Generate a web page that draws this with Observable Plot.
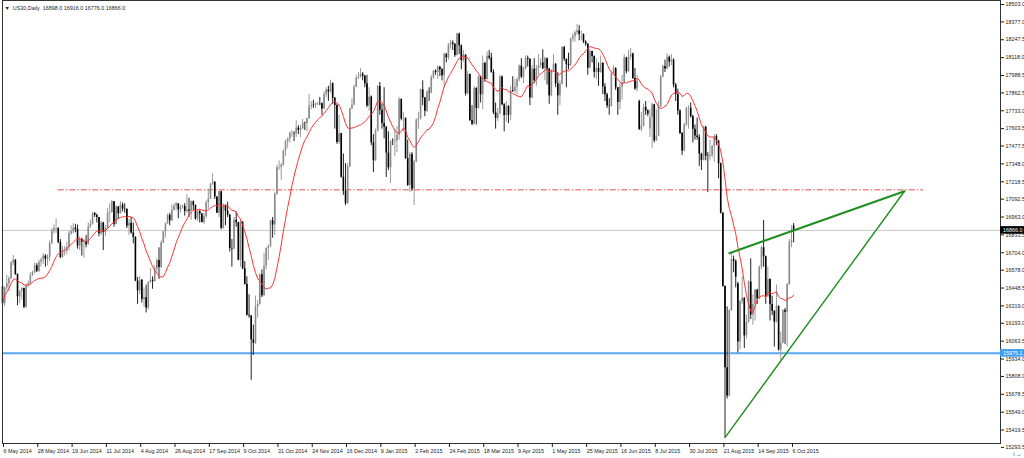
<!DOCTYPE html>
<html><head><meta charset="utf-8">
<script src="https://cdn.jsdelivr.net/npm/d3@7"></script>
<script src="https://cdn.jsdelivr.net/npm/@observablehq/plot@0.6"></script>
<style>html,body{margin:0;padding:0;background:#fff;overflow:hidden}svg{display:block}</style>
</head><body><div id="chart"></div>
<script>
// ---- data (daily bars, US30) ----
const open = [16460,16335,16450,16480,16515,16630,16650,16548,16385,16425,16445,16310,16468,16478,16540,16560,16610,16570,16635,16652,
16680,16658,16672,16770,16860,16878,16880,16778,16670,16710,16716,16743,16841,16856,16882,16872,16753,16802,16781,16786,
16762,16891,16911,16990,16975,16959,16841,16920,16850,16879,16990,16995,17073,16911,17035,16987,17049,17022,17019,16896,
16918,16848,16816,16498,16428,16505,16365,16379,16304,16489,16505,16496,16587,16648,16598,16774,16855,16914,16975,16936,
17012,17041,17058,17015,17033,17040,17003,17014,17004,17073,17047,16949,17003,16985,16923,16967,17067,17092,17201,17215,
17108,16991,17146,16881,17048,17006,16978,16735,16731,16939,16922,16650,16924,16589,16474,16251,16246,16072,16048,16310,
16330,16545,16392,16607,16735,16748,16936,16905,17126,17321,17322,17339,17440,17510,17529,17569,17570,17567,17607,17590,
17603,17643,17641,17675,17765,17773,17770,17783,17785,17783,17745,17850,17883,17870,17929,17823,17771,17503,17567,17251,
17150,17060,17327,17748,17775,17904,17969,17975,17998,17983,17928,17768,17833,17501,17371,17585,17908,17737,17640,17613,
17427,17320,17511,17510,17516,17555,17814,17673,17678,17387,17192,17417,17165,17362,17667,17674,17885,17825,17729,17868,
17863,17973,18019,18010,18048,18030,17986,18140,18117,18210,18225,18215,18133,18289,18204,18097,18136,17856,17996,17662,
17635,17895,17749,17977,17850,18076,17959,18128,18116,18011,17718,17678,17712,17977,17776,17698,17763,17700,17880,17875,
17903,17958,18057,17977,18036,18113,18106,17826,18034,17950,18038,18058,18080,18038,18110,18036,17841,18024,18070,17928,
17841,17925,18191,18105,18068,18060,18252,18272,18299,18312,18285,18285,18232,18215,18042,18163,18126,18011,18040,18011,
18077,17906,17849,17767,17765,18001,18039,17899,17792,17905,17935,18116,18016,18120,18144,17967,17891,17800,17597,17620,
17758,17731,17600,17684,17777,17515,17549,17761,17978,18053,18035,18120,18086,18100,17919,17851,17732,17569,17441,17631,
17751,17752,17690,17599,17551,17540,17419,17374,17615,17403,17402,17409,17477,17546,17512,17349,16991,16460,15871,15666,
16285,16655,16643,16480,16058,16351,16374,16102,16200,16492,16253,16330,16433,16370,16599,16740,16675,16385,16511,16330,
16280,16201,16315,16001,16049,16285,16273,16472,16777,16898];
const high = [16470,16455,16540,16530,16640,16685,16655,16550,16430,16450,16448,16470,16500,16560,16570,16630,16625,16650,16665,16700,
16690,16690,16790,16880,16905,16950,16885,16800,16750,16750,16780,16860,16900,16915,16910,16905,16820,16810,16800,16830,
16920,16940,16995,16995,16985,16960,16930,16925,16900,17025,17060,17083,17075,17045,17040,17075,17065,17060,17020,16945,
16960,16920,16820,16525,16530,16510,16450,16470,16495,16590,16530,16610,16660,16740,16790,16860,16920,16985,16990,17050,
17060,17070,17060,17050,17050,17060,17125,17100,17080,17080,17050,17010,17010,16990,16990,17080,17165,17205,17276,17220,
17110,17150,17150,17060,17050,17070,16980,16800,16960,17000,16925,16940,16930,16640,16530,16400,16250,16180,16390,16360,
16550,16580,16700,16740,16760,16940,16960,17140,17340,17370,17350,17450,17520,17535,17580,17590,17580,17660,17625,17625,
17670,17650,17680,17850,17800,17810,17790,17795,17830,17790,17870,17900,17910,17955,17935,17830,17780,17700,17570,17420,
17350,17350,17750,17820,17920,17990,18010,18040,18010,17990,17990,17900,17840,17560,17600,17915,17938,17780,17900,17620,
17580,17515,17530,17600,17620,17830,17820,17720,17680,17520,17430,17430,17375,17675,17720,17890,17950,17830,17880,17900,
17990,18025,18030,18060,18055,18040,18150,18150,18220,18245,18240,18220,18295,18295,18210,18170,18140,18020,18000,17770,
17910,17900,17985,17985,18130,18085,18160,18170,18150,18030,17790,17750,17990,17985,17785,17800,17770,17910,17980,17960,
17970,18065,18110,18050,18130,18130,18110,18060,18110,18060,18140,18110,18175,18120,18115,18040,18030,18140,18075,18010,
17950,18200,18200,18110,18150,18260,18290,18310,18360,18350,18310,18290,18240,18220,18180,18165,18130,18110,18080,18130,
18080,17930,17860,17820,18010,18060,18045,17900,17930,17990,18140,18120,18170,18184,18150,18040,17990,17810,17720,17780,
17800,17740,17740,17790,17780,17740,17800,17990,18060,18100,18148,18130,18140,18110,17930,17890,17740,17575,17640,17760,
17770,17790,17700,17630,17680,17560,17425,17620,17620,17430,17520,17480,17560,17560,17520,17355,16995,16465,16312,16290,
16706,16680,16650,16490,16360,16530,16380,16250,16500,16660,16400,16440,16440,16610,16750,16938,16680,16600,16515,16390,
16285,16470,16320,16130,16290,16300,16480,16800,16900,16916];
const low = [16320,16315,16430,16420,16510,16610,16540,16320,16335,16360,16300,16300,16450,16470,16530,16550,16560,16560,16600,16620,
16600,16610,16640,16765,16840,16845,16770,16660,16665,16680,16690,16720,16830,16840,16850,16730,16720,16680,16665,16740,
16760,16880,16905,16960,16920,16820,16830,16720,16820,16875,16920,16990,16890,16905,16945,16985,17000,16990,16880,16830,
16840,16770,16495,16330,16400,16340,16310,16268,16290,16480,16440,16490,16560,16510,16590,16770,16810,16910,16900,16930,
17005,17010,16950,16990,17020,16970,16990,16960,16940,17010,16940,16930,16920,16920,16910,16950,17020,17090,17190,17090,
16990,16960,16870,16875,16900,16960,16710,16600,16725,16890,16645,16600,16580,16470,16245,16230,15780,15960,16040,16230,
16325,16380,16385,16580,16650,16740,16810,16830,17120,17300,17230,17330,17400,17460,17500,17540,17510,17540,17560,17540,
17595,17590,17580,17670,17740,17750,17750,17770,17770,17700,17740,17830,17800,17860,17780,17600,17490,17490,17245,17120,
17047,17055,17320,17740,17770,17900,17960,17970,17950,17900,17755,17730,17480,17286,17365,17580,17700,17600,17530,17250,
17300,17206,17480,17400,17430,17520,17660,17580,17380,17185,17140,17150,17047,17355,17600,17665,17770,17690,17720,17800,
17855,17960,17990,17960,17980,17950,17900,18080,18100,18180,18170,18120,18130,18140,18030,18085,17840,17850,17655,17625,
17630,17630,17745,17790,17740,17940,17955,18100,18005,17705,17600,17655,17705,17770,17580,17650,17640,17660,17865,17860,
17850,17940,17965,17930,18030,18050,17770,17820,17930,17910,17990,18040,18030,17950,17920,17780,17835,18010,17900,17700,
17770,17920,18090,17900,18030,18055,18230,18230,18280,18240,18240,18220,18200,17990,18035,18080,17970,17960,17910,18005,
17850,17800,17750,17700,17760,17990,17880,17700,17740,17810,17930,18000,18010,18100,17960,17880,17870,17590,17580,17615,
17700,17690,17540,17460,17500,17510,17545,17755,17970,18010,18030,18050,18060,17900,17800,17700,17560,17409,17435,17620,
17600,17680,17500,17520,17520,17330,17300,17370,17370,17140,17370,17390,17360,17480,17240,16985,16455,15365,15645,15660,
16280,16560,16450,15979,16000,16330,16010,16080,16195,16220,16180,16210,16330,16365,16580,16600,16330,16380,16210,16250,
16020,16195,15990,15924,16045,16040,16020,16470,16740,16776];
const close = [16335,16450,16480,16515,16630,16650,16548,16385,16425,16445,16310,16468,16478,16540,16560,16610,16570,16635,16652,16680,
16658,16672,16770,16860,16878,16880,16778,16670,16710,16716,16743,16841,16856,16882,16872,16753,16802,16781,16786,16762,
16891,16911,16990,16975,16959,16841,16920,16850,16879,16990,16995,17073,16911,17035,16987,17049,17022,17019,16896,16918,
16848,16816,16498,16428,16505,16365,16379,16304,16489,16505,16496,16587,16648,16598,16774,16855,16914,16975,16936,17012,
17041,17058,17015,17033,17040,17003,17014,17004,17073,17047,16949,17003,16985,16923,16967,17067,17092,17201,17215,17108,
16991,17146,16881,17048,17006,16978,16735,16731,16939,16922,16650,16924,16589,16474,16251,16246,16072,16048,16310,16330,
16545,16392,16607,16735,16748,16936,16905,17126,17321,17322,17339,17440,17510,17529,17569,17570,17567,17607,17590,17603,
17643,17641,17675,17765,17773,17770,17783,17785,17783,17745,17850,17883,17870,17929,17823,17771,17503,17567,17251,17150,
17060,17327,17748,17775,17904,17969,17975,17998,17983,17928,17768,17833,17501,17371,17585,17908,17737,17640,17613,17427,
17320,17511,17510,17516,17555,17814,17673,17678,17387,17192,17417,17165,17362,17667,17674,17885,17825,17729,17868,17863,
17973,18019,18010,18048,18030,17986,18140,18117,18210,18225,18215,18133,18289,18204,18097,18136,17856,17996,17662,17635,
17895,17749,17977,17850,18076,17959,18128,18116,18011,17718,17678,17712,17977,17776,17698,17763,17700,17880,17875,17903,
17958,18057,17977,18036,18113,18106,17826,18034,17950,18038,18058,18080,18038,18110,18036,17841,18024,18070,17928,17841,
17925,18191,18105,18068,18060,18252,18272,18299,18312,18285,18285,18232,18215,18042,18163,18126,18011,18040,18011,18077,
17906,17849,17767,17765,18001,18039,17899,17792,17905,17935,18116,18016,18120,18144,17967,17891,17947,17597,17620,17758,
17731,17710,17684,17777,17515,17549,17761,17978,18053,18035,18120,18086,18100,17919,17851,17732,17569,17441,17631,17751,
17752,17690,17599,17551,17540,17419,17374,17615,17403,17402,17409,17477,17546,17512,17349,16991,16460,15871,15666,16285,
16655,16643,16528,16058,16351,16374,16102,16200,16492,16253,16330,16433,16370,16599,16740,16675,16385,16511,16330,16280,
16201,16315,16001,16049,16285,16273,16472,16777,16790,16866];

const timeLabels = ["6 May 2014","28 May 2014","19 Jun 2014","11 Jul 2014","4 Aug 2014","26 Aug 2014","17 Sep 2014",
  "9 Oct 2014","31 Oct 2014","24 Nov 2014","16 Dec 2014","9 Jan 2015","2 Feb 2015","24 Feb 2015","18 Mar 2015",
  "9 Apr 2015","1 May 2015","25 May 2015","16 Jun 2015","8 Jul 2015","30 Jul 2015","21 Aug 2015","14 Sep 2015","6 Oct 2015"];
const priceTicks = [18503.0,18377.0,18247.5,18118.0,17988.5,17862.5,17733.0,17603.5,17477.5,17348.0,17218.5,17092.5,16963.0,
  16833.5,16704.0,16578.0,16448.5,16319.0,16193.0,16063.5,15934.0,15808.0,15678.5,15549.0,15419.5,15293.5];
const firstDay = "2014-05-06";
const missingDays = ["2014-12-25","2015-01-01"];
const lastPrice = 16866.0;
const supportLevel = 15975.1;
const resistanceLevel = 17160;
const resistanceFrom = 26, resistanceTo = 429.6;      // bar positions
const upperTrend = [{i: 339, p: 16701}, {i: 420.7, p: 17150}];
const lowerTrend = [{i: 337, p: 15365}, {i: 420.7, p: 17150}];
const maPeriod = 14;
const symbol = "US30,Daily";
const headerValues = [16898.0, 16916.0, 16776.0, 16866.0];

// ---- trading calendar ----
const skip = new Set(missingDays);
const dates = [];
for (let d = new Date(firstDay + "T00:00:00Z"); dates.length < close.length; d.setUTCDate(d.getUTCDate() + 1)) {
  const s = d.toISOString().slice(0, 10), wd = d.getUTCDay();
  if (wd === 0 || wd === 6 || skip.has(s)) continue;
  dates.push(s);
}
const bars = close.map((c, i) => ({i, date: dates[i], open: open[i], high: high[i], low: low[i], close: c}));
const up = bars.filter(d => d.close >= d.open), down = bars.filter(d => d.close < d.open);
const parseLabel = d3.timeParse("%d %b %Y");
const labelAt = new Map();
timeLabels.forEach(t => { const k = dates.indexOf(d3.timeFormat("%Y-%m-%d")(parseLabel(t))); if (k >= 0) labelAt.set(k, t); });

const FONT = "Liberation Sans, Arial, sans-serif";
const chart = Plot.plot({
  width: 1024, height: 458,
  marginLeft: 2, marginRight: 24, marginTop: 0, marginBottom: 15,
  x: {type: "linear", domain: [0, 465.5], axis: null},
  y: {type: "linear", domain: [15322, 18532], axis: null},
  style: {background: "#ffffff", fontFamily: FONT, color: "#1a1a1a"},
  marks: [
    Plot.ruleY([lastPrice], {stroke: "#c9c9c9", strokeWidth: 1}),
    Plot.ruleY([supportLevel], {stroke: "#5aa7f2", strokeWidth: 2}),
    Plot.ruleY([resistanceLevel], {x1: resistanceFrom, x2: resistanceTo, stroke: "#e05050", strokeWidth: 1, strokeDasharray: "6,2,1.5,2"}),
    Plot.ruleX(up, {x: "i", y1: "low", y2: "high", stroke: "#9a9a9a", strokeWidth: 1}),
    Plot.ruleX(down, {x: "i", y1: "low", y2: "high", stroke: "#222", strokeWidth: 1}),
    Plot.ruleX(up, {x: "i", y1: "open", y2: "close", stroke: "#8a8a8a", strokeWidth: 1.6}),
    Plot.ruleX(down, {x: "i", y1: "open", y2: "close", stroke: "#000", strokeWidth: 1.6}),
    Plot.lineY(bars, Plot.windowY({k: maPeriod, anchor: "end", strict: false}, {x: "i", y: "close", stroke: "#ff3333", strokeWidth: 1})),
    Plot.line(upperTrend, {x: "i", y: "p", stroke: "#1f8f1f", strokeWidth: 2}),
    Plot.line(lowerTrend, {x: "i", y: "p", stroke: "#1f8f1f", strokeWidth: 1.4}),
    Plot.frame({stroke: "#333", strokeWidth: 1}),
    Plot.axisY(priceTicks, {anchor: "right", tickSize: 3, tickPadding: 2, tickFormat: d => d.toFixed(1), fontSize: 5.4, fill: "#222"}),
    Plot.axisX([...labelAt.keys()], {anchor: "bottom", tickSize: 4, tickPadding: 2, tickFormat: d => labelAt.get(d), textAnchor: "start", dx: 1, fontSize: 5.4, fill: "#222"}),
    Plot.text([`▼  ${symbol}  ${headerValues.map(v => v.toFixed(1)).join(" ")}`], {frameAnchor: "top-left", dx: 2, dy: 6, textAnchor: "start", fontSize: 5.4, fill: "#222"})
  ]
});
document.getElementById("chart").appendChild(chart);

// price tags on the axis
const svg = d3.select(chart);
const ys = chart.scale("y");
[[lastPrice, "#000000", lastPrice.toFixed(1)], [supportLevel, "#3d9df3", supportLevel.toFixed(1)]].forEach(([v, col, txt]) => {
  const y = ys.apply(v);
  svg.append("rect").attr("x", 1000).attr("y", y - 3.8).attr("width", 24).attr("height", 7.6).attr("fill", col);
  svg.append("text").attr("x", 1003).attr("y", y + 1.9).attr("fill", "#fff").attr("font-size", 5.4)
    .attr("text-anchor", "start").attr("font-family", FONT).text(txt);
});
</script>
</body></html>
